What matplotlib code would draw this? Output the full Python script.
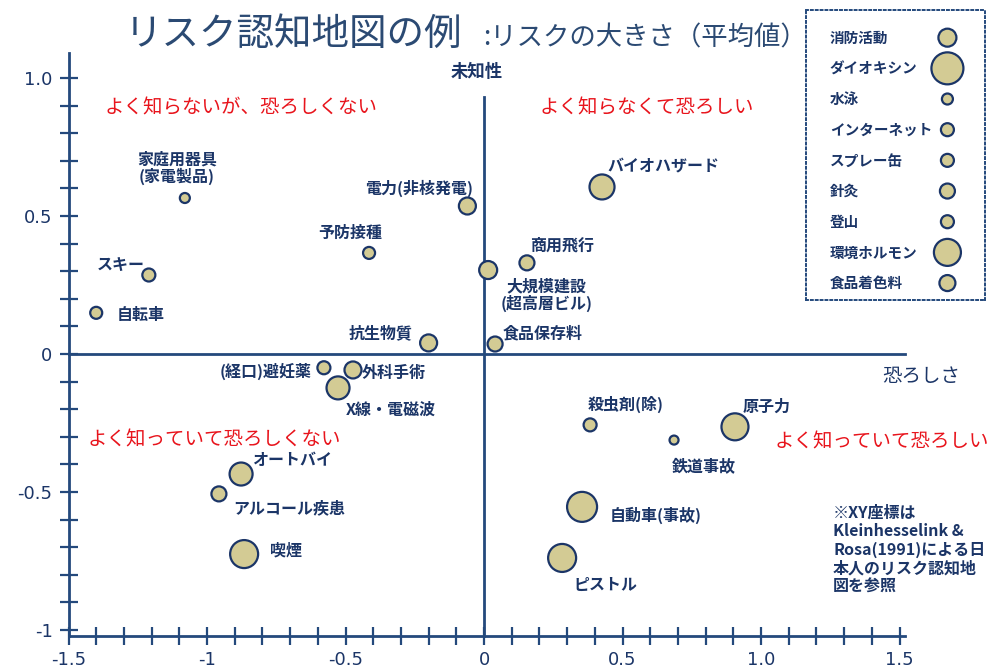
import matplotlib
matplotlib.use('Agg')
import matplotlib.pyplot as plt
from matplotlib.ticker import FixedLocator

plt.rcParams['font.family'] = ['Noto Sans CJK JP', 'DejaVu Sans']

NAVY = '#1b3567'
LINE = '#24497c'
FILL = '#d3cb94'
EDGE = '#1b3567'
RED = '#e8141c'

# ---------------- data ----------------
risk_names = ['家庭用器具\n(家電製品)', '電力(非核発電)', '予防接種', 'スキー', '自転車',
              '抗生物質', '大規模建設\n(超高層ビル)', '商用飛行', 'バイオハザード', '食品保存料',
              '(経口)避妊薬', '外科手術', 'X線・電磁波', 'オートバイ', 'アルコール疾患',
              '喫煙', '殺虫剤(除)', '鉄道事故', '原子力', '自動車(事故)', 'ピストル']
dread = [-1.08, -0.06, -0.415, -1.21, -1.40,
         -0.20, 0.015, 0.155, 0.426, 0.04,
         -0.578, -0.473, -0.527, -0.877, -0.957,
         -0.866, 0.383, 0.686, 0.906, 0.354, 0.282]
unknown = [0.565, 0.536, 0.366, 0.286, 0.149,
           0.04, 0.304, 0.33, 0.605, 0.036,
           -0.05, -0.058, -0.123, -0.435, -0.507,
           -0.725, -0.257, -0.312, -0.264, -0.554, -0.739]
magnitude = [10, 17, 12, 13, 12,
             17, 18, 15, 25, 15,
             13, 17, 23, 23, 15,
             28, 13, 9, 27, 30, 28]

legend_names = ['消防活動', 'ダイオキシン', '水泳', 'インターネット', 'スプレー缶',
                '針灸', '登山', '環境ホルモン', '食品着色料']
legend_magnitude = [18, 32, 11, 13, 13, 15, 13, 27, 16]

x_ticks = [-1.5, -1.0, -0.5, 0.0, 0.5, 1.0, 1.5]
x_ticklabels = ['-1.5', '-1', '-0.5', '0', '0.5', '1.0', '1.5']
y_ticks = [-1.0, -0.5, 0.0, 0.5, 1.0]
y_ticklabels = ['-1', '-0.5', '0', '0.5', '1.0']

quadrant_labels = ['よく知らないが、恐ろしくない', 'よく知らなくて恐ろしい',
                   'よく知っていて恐ろしくない', 'よく知っていて恐ろしい']

# ---------------- layout (label placement, pixels) ----------------
label_layout = [  # (dx, dy_up, ha)
    (-8, 30, 'center'), (6, 18, 'right'), (-19, 20, 'center'), (-4, 10, 'right'), (20, -2, 'left'),
    (-16, 10, 'right'), (12, -25, 'left'), (3, 17, 'left'), (5, 20, 'left'), (8, 11, 'left'),
    (-12, -4, 'right'), (9, -3, 'left'), (8, -22, 'left'), (11, 14, 'left'), (14, -14, 'left'),
    (26, 4, 'left'), (-2, 20, 'left'), (-2, -27, 'left'), (8, 20, 'left'), (28, -8, 'left'),
    (11, -27, 'left'),
]
quadrant_pos = [(-1.37, 0.89), (0.2, 0.89), (-1.43, -0.31), (1.05, -0.32)]


def area(d):
    return (d * 72.0 / 100.0) ** 2


fig = plt.figure(figsize=(9.9, 6.71), dpi=100)
ax = fig.add_axes([0.0692, 0.0529, 0.845, 0.868])
ax.set_xlim(-1.5, 1.52)
ax.set_ylim(-1.02, 1.09)
ax.patch.set_alpha(0)

for s in ['top', 'right']:
    ax.spines[s].set_visible(False)
for s in ['left', 'bottom']:
    ax.spines[s].set_color(LINE)
    ax.spines[s].set_linewidth(2)

ax.xaxis.set_major_locator(FixedLocator(x_ticks))
ax.set_xticklabels(x_ticklabels)
ax.xaxis.set_minor_locator(FixedLocator([i / 10 for i in range(-15, 16)]))
ax.yaxis.set_major_locator(FixedLocator(y_ticks))
ax.set_yticklabels(y_ticklabels)
ax.yaxis.set_minor_locator(FixedLocator([i / 10 for i in range(-10, 11)]))
ax.tick_params(which='both', direction='inout', length=13, width=1.6, color=LINE)
ax.tick_params(axis='both', which='major', labelsize=13, labelcolor=NAVY, pad=5)
for lab in ax.get_xticklabels() + ax.get_yticklabels():
    lab.set_family('DejaVu Sans')

# center cross lines
ax.plot([-1.5, 1.52], [0, 0], color=LINE, lw=2, clip_on=False, zorder=1)
ax.plot([0, 0], [-1.02, 0.93], color=LINE, lw=2, clip_on=False, zorder=1)

ax.text(-0.025, 1.02, '未知性', ha='center', va='center', fontsize=12.5,
        fontweight='bold', color=NAVY, clip_on=False)
ax.text(1.58, -0.08, '恐ろしさ', ha='center', va='center', fontsize=14,
        color=NAVY, clip_on=False)

ax.scatter(dread, unknown, s=[area(m) for m in magnitude], c=FILL,
           edgecolors=EDGE, linewidths=1.6, zorder=3, clip_on=False)

for name, x, y, (dx, dy, ha) in zip(risk_names, dread, unknown, label_layout):
    ax.annotate(name, (x, y), xytext=(dx, dy), textcoords='offset pixels',
                ha=ha, va='center', fontsize=11.5, fontweight='bold',
                color=NAVY, linespacing=1.0, multialignment='center')

for txt, (qx, qy) in zip(quadrant_labels, quadrant_pos):
    ax.text(qx, qy, txt, ha='left', va='center', fontsize=14, color=RED)

ax.text(1.26, -0.545, '※XY座標は\nKleinhesselink &\nRosa(1991)による日\n本人のリスク認知地\n図を参照',
        ha='left', va='top', fontsize=11.5, fontweight='bold', color=NAVY,
        linespacing=1.2)

# title
fig.text(0.126, 0.948, 'リスク認知地図の例', ha='left', va='center',
         fontsize=27, color='#2b4a73')
fig.text(0.488, 0.944, ':リスクの大きさ（平均値）', ha='left', va='center',
         fontsize=19, color='#2b4a73')

# legend box
lax = fig.add_axes([0.814, 0.553, 0.181, 0.432])
lax.set_xlim(0, 1)
n = len(legend_names)
lax.set_ylim(n - 1 + 0.55, -0.9)
lax.set_xticks([])
lax.set_yticks([])
for s in lax.spines.values():
    s.set_linestyle((0, (1, 1.5)))
    s.set_color(LINE)
    s.set_linewidth(1.4)
rows = list(range(n))
lax.scatter([0.79] * n, rows, s=[area(m) for m in legend_magnitude], c=FILL,
            edgecolors=EDGE, linewidths=1.6, zorder=3, clip_on=False)
for name, r in zip(legend_names, rows):
    lax.text(0.134, r, name, ha='left', va='center', fontsize=10.5,
             fontweight='bold', color=NAVY)

fig.savefig('out.png', dpi=100)
